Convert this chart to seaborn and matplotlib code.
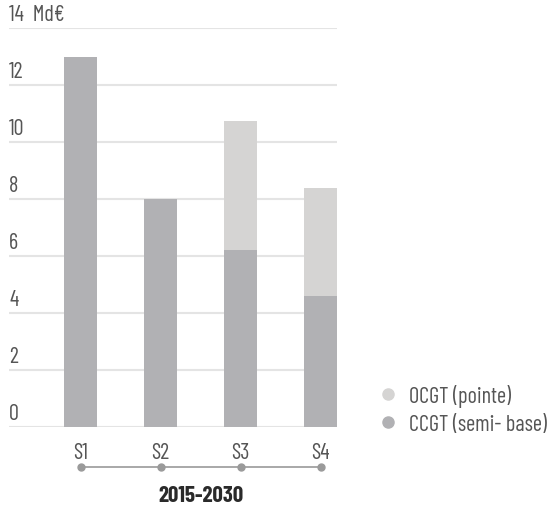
import matplotlib
matplotlib.use("Agg")
import matplotlib.pyplot as plt
import matplotlib.transforms as mtransforms
from matplotlib.lines import Line2D
import seaborn as sns
import pandas as pd

scenarios = ["S1", "S2", "S3", "S4"]
ccgt = [13.0, 8.0, 6.2, 4.6]
ocgt = [0.0, 0.0, 4.55, 3.8]
y_ticks = [0, 2, 4, 6, 8, 10, 12, 14]
unit_label = "Md€"
period_label = "2015-2030"
legend_labels = ["OCGT (pointe)", "CCGT (semi- base)"]

col_ocgt = "#d5d4d3"
col_ccgt = "#b1b1b4"
txt_col = "#555555"

sns.set_theme(style="white")
plt.rcParams['font.family'] = ['Barlow Condensed', 'DejaVu Sans']
plt.rcParams['font.stretch'] = 'condensed'

df = pd.DataFrame({"scenario": scenarios, "ccgt": ccgt, "ocgt": ocgt})
df["total"] = df["ccgt"] + df["ocgt"]

W, H = 553, 506
fig = plt.figure(figsize=(W / 100, H / 100), dpi=100)
ax = fig.add_axes([9 / W, 1 - 428 / H, (337 - 9) / W, (428 - 29) / H])

bw = 0.4125
sns.barplot(data=df, x="scenario", y="total", color=col_ocgt, width=bw,
            saturation=1, ax=ax, zorder=2, linewidth=0)
sns.barplot(data=df, x="scenario", y="ccgt", color=col_ccgt, width=bw,
            saturation=1, ax=ax, zorder=3, linewidth=0)

fs = 16
ax.set_xlim(-0.894, 3 + bw / 2)
ax.set_ylim(0, 14)
ax.set_yticks(y_ticks)
ax.yaxis.grid(True, color="#e4e4e4", linewidth=1.5, zorder=0)
ax.set_axisbelow(True)
ax.set_yticklabels([])
ax.tick_params(axis="both", length=0)
for s in ax.spines.values():
    s.set_visible(False)
ax.set_xlabel("")
ax.set_ylabel("")
ax.tick_params(axis="x", pad=11, labelsize=fs, labelcolor=txt_col)

trans_y = mtransforms.blended_transform_factory(ax.transAxes, ax.transData)
for v in y_ticks:
    lab = f"{v}  {unit_label}" if v == y_ticks[-1] else f"{v}"
    ax.annotate(lab, xy=(0, v), xycoords=trans_y, xytext=(0, 9.5),
                textcoords="offset points", ha="left", va="center",
                fontsize=fs, color=txt_col)

trans_x = mtransforms.blended_transform_factory(ax.transData, ax.transAxes)
xs = list(range(len(scenarios)))
ax.plot(xs, [-0.1003] * len(xs), transform=trans_x, color="#9a9a9a",
        linewidth=1.2, marker="o", markersize=5, clip_on=False)
ax.text(1.5, -0.17, period_label, transform=trans_x, ha="center",
        va="center", fontsize=16.5, fontweight="bold", color="#2a2a2a")

handles = [Line2D([], [], marker="o", linestyle="", markersize=8,
                  markerfacecolor=c, markeredgecolor=c)
           for c in [col_ocgt, col_ccgt]]
fig.legend(handles, legend_labels, loc="upper left",
           bbox_to_anchor=(357 / W, 1 - 365 / H), frameon=False,
           fontsize=fs, labelcolor=txt_col, handletextpad=0.45,
           labelspacing=0.3, handlelength=1.0)

fig.savefig("out.png", dpi=100)
